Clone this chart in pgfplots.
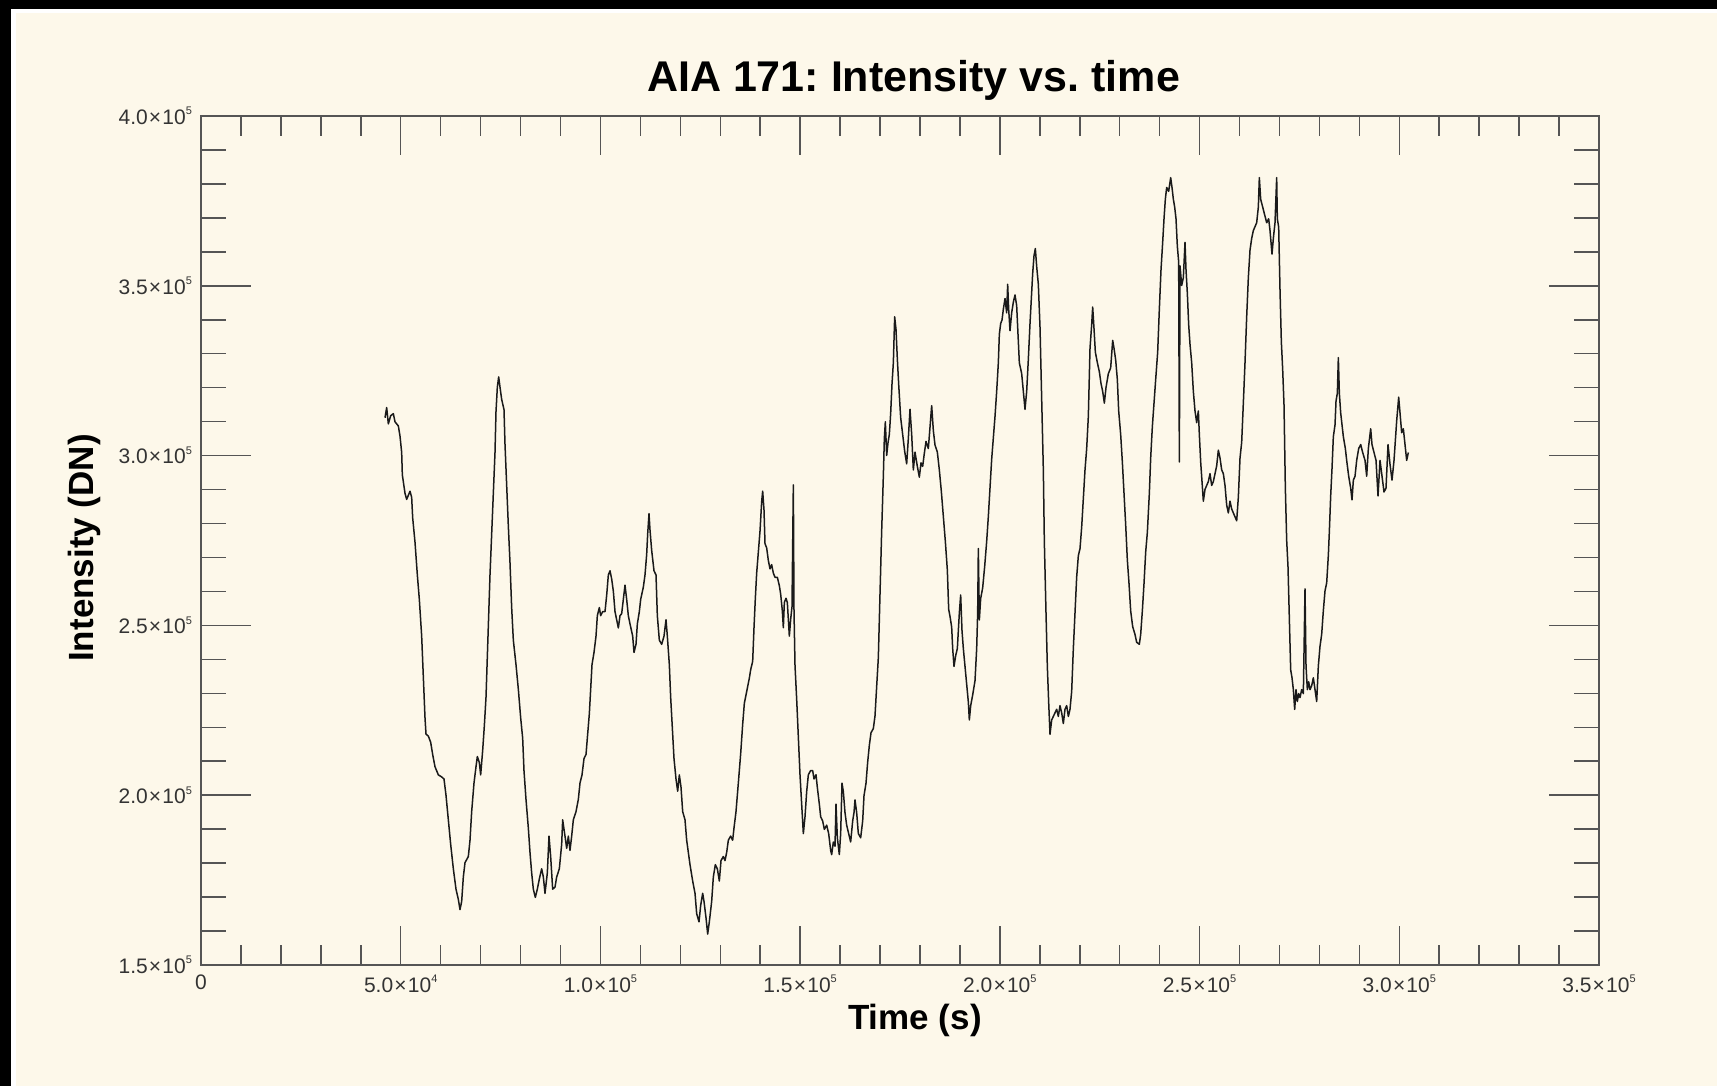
\documentclass[border=0pt]{standalone}
\usepackage{fontspec}
\setmainfont{Liberation Sans}
\usepackage{pgfplots}
\pgfplotsset{compat=1.18}
\frenchspacing

\definecolor{paper}{HTML}{FDF8EA}
\definecolor{axisgray}{HTML}{555555}
\definecolor{labelgray}{HTML}{333333}
\definecolor{ink}{HTML}{1A1A1A}

% tick label in the form m x 10^e
\newcommand{\sci}[2]{#1\kern0.6pt×\kern0.6pt10\raisebox{0.85ex}{\fontsize{5.5}{6}\selectfont#2}}

\pgfplotsset{
  aiabox/.style={
    at={(100.5pt,60.5pt)}, anchor=south west,
    scale only axis, width=699pt, height=424.5pt,
    xmin=0, xmax=350000, ymin=150000, ymax=400000,
    axis line style={axisgray, line width=0.8pt},
    tick align=inside,
    tick style={axisgray, line width=0.75pt},
    scaled ticks=false,
  }
}

\begin{document}
\begin{tikzpicture}
\useasboundingbox (0,0) rectangle (858.5pt,543pt);
\fill[black] (0,0) rectangle (858.5pt,543pt);
\fill[white] (5.5pt,0) rectangle (858.5pt,538.5pt);
\fill[paper] (8pt,0) rectangle (858.5pt,536.5pt);

% x ticks and the light curve
\begin{axis}[aiabox,
  xtick={0,50000,100000,150000,200000,250000,300000,350000},
  xticklabels={0,\sci{5.0}{4},\sci{1.0}{5},\sci{1.5}{5},\sci{2.0}{5},\sci{2.5}{5},\sci{3.0}{5},\sci{3.5}{5}},
  minor x tick num=4,
  ytick=\empty,
  major tick length=19.5pt, minor tick length=10pt,
  xticklabel style={font=\fontsize{10.5}{12}\selectfont, text=labelgray, yshift=-1.5pt},
]
\addplot[ink, line width=0.75pt, line join=round] table {
46066 311144
46484 314149
46901 309341
47485 311745
48153 312346
48570 309942
49404 308741
49822 305736
50239 300928
50406 294318
51073 288909
51491 287106
51908 288308
52325 289510
52742 287707
52993 281698
53577 274486
54161 264871
54662 257660
55246 246843
55663 234824
56080 222805
56330 217997
56915 217396
57499 215594
58000 211988
58584 208382
59418 205979
60253 205378
60837 204776
61338 199969
61922 192758
62506 185546
63174 178335
63842 172325
64426 169321
64843 166316
65260 168720
65677 175931
66094 180138
66929 181941
67346 186748
67764 195162
68348 203575
68849 208382
69183 211387
69684 209584
70017 205979
70518 213190
70935 220401
71352 228814
71686 240833
72020 252852
72353 264871
72771 276890
73188 288909
73605 300928
73855 312947
74189 320158
74523 323163
74857 320158
75274 316553
75858 313548
76108 303332
76526 291313
76943 279294
77360 268477
77777 255256
78195 245641
78862 238429
79446 231218
80030 222805
80531 216795
80865 207180
81365 198767
81950 190353
82367 183142
82784 177132
83202 172325
83702 169921
84203 172325
84704 175330
85288 178335
85705 175931
86122 171123
86707 177132
87124 187950
87541 181941
88042 172325
88626 172926
89045 175931
89713 178335
90297 185546
90547 192757
91131 187950
91549 184344
91966 187950
92383 183743
92800 187950
93218 192757
93885 195161
94469 198767
94887 203574
95387 205978
95888 210786
96389 211987
96722 216795
97223 224006
97557 231218
97891 238429
98391 242035
98892 246842
99226 252852
99727 255256
100060 252852
100561 254054
101145 254054
101563 258861
101980 264871
102397 266072
102814 263669
103232 260063
103649 254054
104066 251650
104483 249246
104901 252852
105318 253453
105735 257660
106152 261866
106570 257660
106987 252852
107404 250448
108072 246842
108405 242035
108906 244438
109240 250448
109741 254054
110074 257660
110742 261265
111159 264871
111577 270881
111827 276890
112161 282900
112411 278092
112829 272082
113413 266072
113914 264871
114247 252852
114748 245641
115332 244438
115916 246842
116417 251650
116751 246842
117252 238429
117585 228814
118086 217997
118420 210786
118921 204776
119338 201170
119755 205978
120173 202372
120590 195161
121174 192757
121591 186748
122009 183142
122426 179536
123094 174729
123678 171123
124095 165113
124677 162709
125095 167517
125596 171123
125930 168719
126431 163912
126848 159104
127265 162709
127849 168719
128267 175930
128767 179536
129268 178334
129769 174729
130186 180738
130770 181940
131187 180738
131605 183142
132022 186748
132606 187950
133107 186748
133440 190353
133941 195161
134525 203574
135110 212201
135611 220862
136028 227048
136446 229522
136863 231997
137280 234471
137614 236945
138115 239420
138448 249317
138782 257978
139116 265401
139533 271587
139951 277773
140368 286433
140618 289526
140952 283959
141202 274061
141620 272824
142037 269113
142454 266638
142871 267875
143289 265401
143706 264164
144290 264164
144791 261690
145124 259215
145542 254266
145792 249317
146042 256741
146460 257978
146794 256741
147294 246843
147628 251792
147962 255504
148296 291383
148462 254267
148713 238183
149130 228285
149547 217150
149965 206015
150382 197355
150799 188695
151216 193643
151634 201067
152051 206015
152635 207252
153136 207252
153469 204778
153970 206015
154304 202304
154805 197355
155138 193643
155639 192406
156056 189932
156640 191169
157141 188695
157642 183746
157892 182509
158310 186220
158727 184983
158977 197355
159311 187457
159812 182509
160145 188695
160479 203541
160813 201067
161230 194881
161648 191169
162148 188695
162649 186220
163150 192406
163483 194881
163734 198592
164151 194881
164568 188695
165152 187457
165653 192406
165987 199829
166488 203541
166905 209727
167322 214675
167740 218387
168324 219624
168741 223336
169158 231997
169576 240507
169993 259215
170410 277773
170827 293857
171078 305026
171328 309940
171662 300043
171996 303754
172329 306229
172663 312415
172997 321075
173331 327261
173664 340870
173998 337159
174332 328498
174666 321075
175166 311177
175667 306229
176168 301280
176669 297568
177086 305026
177505 313641
177922 306280
178340 295764
178757 301022
179341 296816
179842 293661
180259 297867
180676 296816
181010 299970
181511 304177
182095 302074
182512 308383
182929 314693
183347 307332
183764 303125
184348 301022
184849 295764
185349 289454
185850 282093
186351 274732
186851 266319
187185 254752
187519 252648
187936 249494
188187 243184
188520 237926
188938 241081
189355 243184
189856 253700
190189 258958
190523 248442
190857 243184
191274 237926
191692 232668
192109 227410
192359 222152
192693 226358
193194 229513
193778 233720
194195 243184
194445 253700
194612 272629
194863 251597
195196 257906
195697 261061
196198 267371
196699 274732
197116 282093
197533 290506
197950 298919
198368 305229
198785 311538
199202 318899
199619 327312
199870 335725
200203 338880
200537 339931
200871 343086
201288 346241
201706 342035
201956 350447
202206 343086
202540 336776
202957 342035
203375 345189
203792 347292
204209 344138
204459 337828
204877 327312
205461 324157
205878 318899
206295 313641
206713 318899
207130 328363
207547 338880
207881 346241
208215 353602
208548 358860
208882 360963
209216 355705
209633 350447
210051 337828
210468 316796
210885 295764
211135 274732
211553 253700
211886 237926
212220 227410
212554 217946
212971 222152
213389 223203
213806 224255
214223 225306
214640 223203
215058 226358
215475 224255
215892 221100
216309 225306
216727 226358
217144 223203
217561 225306
217978 230565
218396 243184
218813 253700
219230 264216
219647 270526
220065 272629
220482 278938
220899 287351
221316 295764
221734 302074
222151 311538
222570 331617
222987 338546
223238 343742
223571 337391
223905 330463
224406 327399
224907 324689
225324 321225
225741 318916
226158 315452
226576 320071
227160 324112
227744 325844
228245 333927
228578 331617
228996 328153
229413 322380
229747 313142
230247 306214
230665 298131
231082 288894
231499 279656
231916 269264
232334 262335
232751 254252
233252 249634
233836 247324
234253 245015
234921 244438
235254 247324
235672 254252
236089 262335
236506 271573
236923 277346
237424 288894
237758 299286
238175 308523
238592 315452
239010 322380
239510 330463
239928 343164
240345 354711
240762 362794
241096 369723
241430 375496
241764 378960
242264 377806
242765 381847
243099 378960
243433 375496
243766 373187
244100 369723
244434 361640
244768 357021
244935 298131
245102 355866
245519 350093
245936 352402
246353 362794
246604 354711
246938 347783
247271 338546
247605 332772
248022 327399
248440 318916
248857 313142
249274 309678
249692 313142
249942 306214
250276 298131
250610 292358
250943 286584
251361 290048
251778 291203
252195 292358
252612 294667
253030 291203
253447 292358
253864 294667
254281 296977
254699 301595
255116 299286
255533 295822
255950 294667
256368 291203
256785 285429
257202 283120
257619 286584
258037 284274
258454 283120
258871 281965
259288 280810
259706 287739
260123 299286
260540 303905
260957 315452
261375 327399
261792 340855
262209 352402
262626 360485
263043 363949
263461 366258
263878 367413
264295 368568
264712 373187
264963 381847
265296 375496
265797 373187
266298 370877
266799 368568
267299 369723
267633 366258
268134 359330
268467 363949
268885 368568
269302 381847
269469 369723
269805 367257
270139 348634
270472 333504
270806 325356
271140 314881
271474 290439
271808 274981
272141 267161
272475 252031
272809 236900
273143 234572
273477 231081
273810 225261
274144 231081
274478 227589
274812 229917
275146 228753
275563 231081
275980 229917
276397 260760
276648 238064
276982 231081
277315 233409
277649 231081
278066 232245
278484 234572
278901 231081
279318 227589
279735 238064
280153 243884
280570 247375
280987 254359
281404 260178
281822 262506
282239 270653
282489 277637
282823 288112
283157 296259
283491 305570
283908 309062
284158 316045
284492 318373
284742 328848
284993 318373
285327 312554
285661 309062
285994 305570
286495 302079
286829 298587
287330 293931
287831 290439
288165 286948
288498 292767
288915 293931
289332 298587
289833 302079
290334 303243
290835 300915
291419 298587
291836 293931
292253 302079
292837 307898
293171 303243
293672 300915
294173 298587
294673 288112
295174 298587
295675 293931
296175 289276
296676 290439
297177 303243
297677 297423
298178 292767
298679 298587
299012 304406
299346 310226
299847 317209
300181 312554
300598 306734
301015 307898
301432 303243
301850 298587
302267 300915
};
\end{axis}

% y ticks (longer than the x ticks)
\begin{axis}[aiabox,
  xtick=\empty,
  ytick={150000,200000,250000,300000,350000,400000},
  yticklabels={\sci{1.5}{5},\sci{2.0}{5},\sci{2.5}{5},\sci{3.0}{5},\sci{3.5}{5},\sci{4.0}{5}},
  minor y tick num=4,
  major tick length=25pt, minor tick length=12.5pt,
  yticklabel style={font=\fontsize{10.5}{12}\selectfont, text=labelgray, xshift=-1pt},
]
\addplot[draw=none] coordinates {(0,150000)};
\end{axis}

\node[font=\bfseries\fontsize{21.5}{24}\selectfont, text=black] at (456.75pt,503pt) {AIA 171: Intensity vs. time};
\node[font=\bfseries\fontsize{17.5}{20}\selectfont, text=black] at (457.5pt,33pt) {Time (s)};
\node[font=\bfseries\fontsize{17.5}{20}\selectfont, text=black, rotate=90] at (42pt,269pt) {Intensity (DN)};
\end{tikzpicture}
\end{document}
